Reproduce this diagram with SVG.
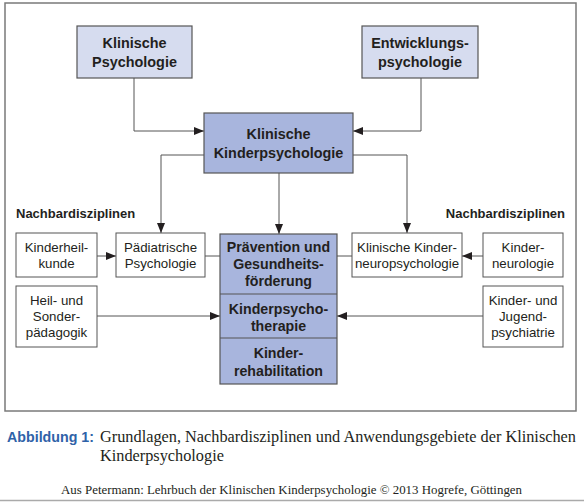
<svg xmlns="http://www.w3.org/2000/svg" width="584" height="502" viewBox="0 0 584 502">
<defs>
<marker id="ah" markerWidth="10" markerHeight="8" refX="10" refY="4" orient="auto" markerUnits="userSpaceOnUse">
<path d="M0,0 L10,4 L0,8 Z" fill="#231f20"/>
</marker>
<style>
.frame{fill:#fff;stroke:#7a7a7a;stroke-width:1.5}
.light{fill:#d6dcef;stroke:#555;stroke-width:1.2}
.dark{fill:#a8b5dd;stroke:#555;stroke-width:1.2}
.white{fill:#fff;stroke:#555;stroke-width:1}
.b{font-family:"Liberation Sans",Arial,sans-serif;font-weight:bold;fill:#231f20;text-anchor:middle}
.r{font-family:"Liberation Sans",Arial,sans-serif;fill:#231f20;text-anchor:middle;font-size:13.3px}
.c{stroke:#555;stroke-width:1;fill:none}
.serif{font-family:"Liberation Serif","Times New Roman",serif;fill:#231f20}
</style>
</defs>
<rect width="584" height="502" fill="#fff"/>
<rect class="frame" x="5" y="3" width="571" height="408"/>

<g id="connectors">
<path class="c" d="M134,78 V131 H204" marker-end="url(#ah)"/>
<path class="c" d="M421,78 V131 H353" marker-end="url(#ah)"/>
<path class="c" d="M204,155 H161 V233" marker-end="url(#ah)"/>
<path class="c" d="M353,155 H407 V233" marker-end="url(#ah)"/>
<path class="c" d="M279,173 V234" marker-end="url(#ah)"/>
<path class="c" d="M97,256 H116" marker-end="url(#ah)"/>
<path class="c" d="M205,256 H220"/>
<path class="c" d="M337,256 H352"/>
<path class="c" d="M483,256 H462" marker-end="url(#ah)"/>
<path class="c" d="M97,316 H220" marker-end="url(#ah)"/>
<path class="c" d="M483,316 H337" marker-end="url(#ah)"/>
</g>

<g id="klinische-psychologie">
<rect class="light" x="77" y="26" width="115" height="52"/>
<text class="b" font-size="14.4" x="134.5" y="48">Klinische</text>
<text class="b" font-size="14.4" x="134.5" y="67">Psychologie</text>
</g>
<g id="entwicklungspsychologie">
<rect class="light" x="362" y="26" width="116" height="52"/>
<text class="b" font-size="14.4" x="420" y="48">Entwicklungs-</text>
<text class="b" font-size="14.4" x="420" y="67">psychologie</text>
</g>
<g id="klinische-kinderpsychologie">
<rect class="dark" x="204" y="113" width="149" height="60"/>
<text class="b" font-size="14.4" x="278.5" y="139">Klinische</text>
<text class="b" font-size="14.4" x="278.5" y="158">Kinderpsychologie</text>
</g>

<g id="label-left">
<text class="b" font-size="13" x="16" y="218" style="text-anchor:start">Nachbardisziplinen</text>
</g>
<g id="label-right">
<text class="b" font-size="13" x="565" y="218" style="text-anchor:end">Nachbardisziplinen</text>
</g>

<g id="kinderheilkunde">
<rect class="white" x="16" y="233" width="81" height="44"/>
<text class="r" x="56.5" y="252">Kinderheil-</text>
<text class="r" x="56.5" y="268">kunde</text>
</g>
<g id="paediatrische-psychologie">
<rect class="white" x="116" y="233" width="89" height="44"/>
<text class="r" x="160.5" y="252">Pädiatrische</text>
<text class="r" x="160.5" y="268">Psychologie</text>
</g>
<g id="heil-sonderpaedagogik">
<rect class="white" x="16" y="286" width="81" height="61"/>
<text class="r" x="56.5" y="305">Heil- und</text>
<text class="r" x="56.5" y="321">Sonder-</text>
<text class="r" x="56.5" y="337">pädagogik</text>
</g>

<g id="anwendungsgebiete">
<rect class="dark" x="220" y="234" width="117" height="150"/>
<line x1="220" y1="294" x2="337" y2="294" stroke="#555" stroke-width="1.2"/>
<line x1="220" y1="338" x2="337" y2="338" stroke="#555" stroke-width="1.2"/>
<text class="b" font-size="14.2" x="278.5" y="252">Prävention und</text>
<text class="b" font-size="14.2" x="278.5" y="269">Gesundheits-</text>
<text class="b" font-size="14.2" x="278.5" y="286">förderung</text>
<text class="b" font-size="14.2" x="278.5" y="314">Kinderpsycho-</text>
<text class="b" font-size="14.2" x="278.5" y="331">therapie</text>
<text class="b" font-size="14.2" x="278.5" y="358">Kinder-</text>
<text class="b" font-size="14.2" x="278.5" y="376">rehabilitation</text>
</g>

<g id="klinische-kinderneuropsychologie">
<rect class="white" x="352" y="233" width="110" height="44"/>
<text class="r" x="407" y="252">Klinische Kinder-</text>
<text class="r" x="407" y="268">neuropsychologie</text>
</g>
<g id="kinderneurologie">
<rect class="white" x="483" y="233" width="80" height="44"/>
<text class="r" x="523" y="252">Kinder-</text>
<text class="r" x="523" y="268">neurologie</text>
</g>
<g id="kinder-jugendpsychiatrie">
<rect class="white" x="483" y="286" width="80" height="61"/>
<text class="r" x="523" y="305">Kinder- und</text>
<text class="r" x="523" y="321">Jugend-</text>
<text class="r" x="523" y="337">psychiatrie</text>
</g>

<g id="caption">
<text x="7" y="442" font-family="Liberation Sans,Arial,sans-serif" font-weight="bold" font-size="15" fill="#2f62a8" textLength="87" lengthAdjust="spacingAndGlyphs">Abbildung 1:</text>
<text class="serif" x="100" y="442" font-size="16.3" textLength="476" lengthAdjust="spacingAndGlyphs">Grundlagen, Nachbardisziplinen und Anwendungsgebiete der Klinischen</text>
<text class="serif" x="100" y="461" font-size="16.3">Kinderpsychologie</text>
<text class="serif" x="61" y="494" font-size="12.2" textLength="461" lengthAdjust="spacingAndGlyphs">Aus Petermann: Lehrbuch der Klinischen Kinderpsychologie © 2013 Hogrefe, Göttingen</text>
<line x1="0" y1="500.5" x2="584" y2="500.5" stroke="#aaa" stroke-width="1.5"/>
</g>
</svg>
